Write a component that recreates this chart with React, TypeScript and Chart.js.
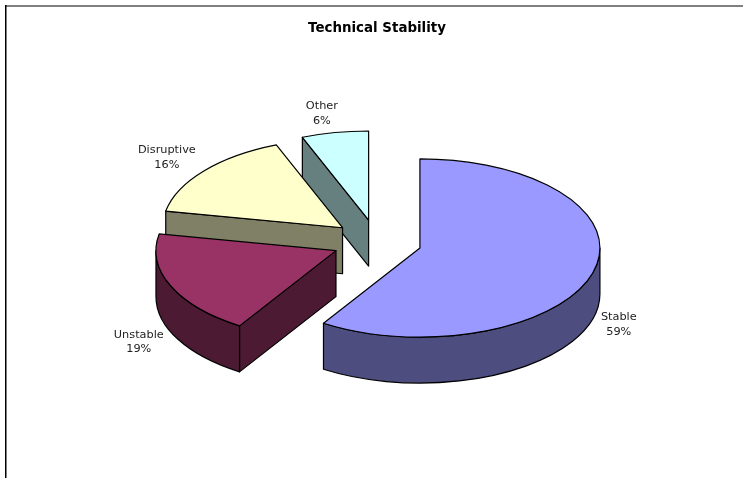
import React, { useEffect, useRef } from "react";
import { Chart, registerables } from "chart.js";

Chart.register(...registerables);

const categories = ["Stable", "Unstable", "Disruptive", "Other"];
const shares = [59, 19, 16, 6];
const faceColors = ["#9999FF", "#993366", "#FFFFCC", "#CCFFFF"];
const wallColors = ["#4D4D80", "#4D1A33", "#808066", "#668080"];
const labelShifts = [
  [26, 6],
  [-32, 10],
  [-37, -13.5],
  [-13, -19],
];

const PIE_RADIUS = 180;
const TILT = 0.495;
const DEPTH = 46;
const EXPLODE = 44.7;
const LABEL_FONT = '11.3px "DejaVu Sans", sans-serif';
const LABEL_LINE = 14.7;

// Geometry of one exploded slice on the tilted disc.
function sliceGeometry(arc: any) {
  const start = arc.startAngle as number;
  const end = arc.endAngle as number;
  const mid = (start + end) / 2;
  const cx = arc.x + Math.cos(mid) * EXPLODE;
  const cy = arc.y + Math.sin(mid) * EXPLODE * TILT;
  const rx = arc.outerRadius as number;
  const ry = rx * TILT;
  return { start, end, mid, cx, cy, rx, ry };
}

function paintPath(ctx: CanvasRenderingContext2D, fill: string) {
  ctx.fillStyle = fill;
  ctx.fill();
  ctx.strokeStyle = "#000000";
  ctx.lineWidth = 1.2;
  ctx.lineJoin = "round";
  ctx.stroke();
}

function radialWall(ctx: CanvasRenderingContext2D, g: any, angle: number, fill: string) {
  const x = g.cx + Math.cos(angle) * g.rx;
  const y = g.cy + Math.sin(angle) * g.ry;
  ctx.beginPath();
  ctx.moveTo(g.cx, g.cy);
  ctx.lineTo(x, y);
  ctx.lineTo(x, y + DEPTH);
  ctx.lineTo(g.cx, g.cy + DEPTH);
  ctx.closePath();
  paintPath(ctx, fill);
}

// The rim is only seen where it faces the viewer, between 0 and PI on the canvas.
function rimWall(ctx: CanvasRenderingContext2D, g: any, fill: string) {
  const from = Math.max(g.start, 0);
  const to = Math.min(g.end, Math.PI);
  if (to <= from) return;
  ctx.beginPath();
  ctx.ellipse(g.cx, g.cy, g.rx, g.ry, 0, from, to);
  ctx.ellipse(g.cx, g.cy + DEPTH, g.rx, g.ry, 0, to, from, true);
  ctx.closePath();
  paintPath(ctx, fill);
}

const tiltedPie = {
  id: "tiltedPie",
  beforeDraw(chart: any) {
    const { ctx, width, height } = chart;
    ctx.save();
    ctx.fillStyle = "#808080";
    ctx.fillRect(5, 5, width - 5, 2);
    ctx.fillStyle = "#000000";
    ctx.fillRect(5, 5, 1.5, height - 5);
    ctx.restore();
  },
  beforeDatasetsDraw(chart: any) {
    const { ctx } = chart;
    const arcs = chart.getDatasetMeta(0).data;
    const order = arcs
      .map((arc: any, index: number) => ({ index, g: sliceGeometry(arc) }))
      .sort((a: any, b: any) => Math.sin(a.g.mid) - Math.sin(b.g.mid));
    ctx.save();
    for (const { index, g } of order) {
      if (Math.cos(g.start) < -1e-6) radialWall(ctx, g, g.start, wallColors[index]);
      if (Math.cos(g.end) > 1e-6) radialWall(ctx, g, g.end, wallColors[index]);
      rimWall(ctx, g, wallColors[index]);
      ctx.beginPath();
      ctx.moveTo(g.cx, g.cy);
      ctx.ellipse(g.cx, g.cy, g.rx, g.ry, 0, g.start, g.end);
      ctx.closePath();
      paintPath(ctx, faceColors[index]);
    }
    ctx.restore();
    return false;
  },
  afterDraw(chart: any) {
    const { ctx } = chart;
    const arcs = chart.getDatasetMeta(0).data;
    ctx.save();
    ctx.font = LABEL_FONT;
    ctx.fillStyle = "#222222";
    ctx.textAlign = "center";
    ctx.textBaseline = "middle";
    arcs.forEach((arc: any, i: number) => {
      const g = sliceGeometry(arc);
      const lowered = Math.sin(g.mid) > 0 ? DEPTH : 0;
      const x = g.cx + Math.cos(g.mid) * g.rx + labelShifts[i][0];
      const y = g.cy + Math.sin(g.mid) * g.ry + lowered + labelShifts[i][1];
      ctx.fillText(categories[i], x, y - LABEL_LINE / 2);
      ctx.fillText(`${shares[i]}%`, x, y + LABEL_LINE / 2);
    });
    ctx.restore();
  },
};

export default function App() {
  const canvasRef = useRef<HTMLCanvasElement | null>(null);

  useEffect(() => {
    const chart = new Chart(canvasRef.current as HTMLCanvasElement, {
      type: "pie",
      data: {
        labels: categories,
        datasets: [{ data: shares, backgroundColor: faceColors }],
      },
      options: {
        animation: false,
        responsive: false,
        radius: PIE_RADIUS,
        layout: { padding: { left: 11, right: 0, top: 0, bottom: 30.4 } },
        plugins: {
          legend: { display: false },
          tooltip: { enabled: false },
          title: {
            display: true,
            text: "Technical Stability",
            color: "#000000",
            font: { family: '"DejaVu Sans", sans-serif', size: 13.4, weight: "bold" },
            padding: { top: 20, bottom: 0 },
          },
        },
      },
      plugins: [tiltedPie],
    } as any);
    return () => chart.destroy();
  }, []);

  return (
    <canvas
      ref={canvasRef}
      width={743}
      height={478}
      style={{ position: "absolute", left: 0, top: 0, display: "block" }}
    />
  );
}
